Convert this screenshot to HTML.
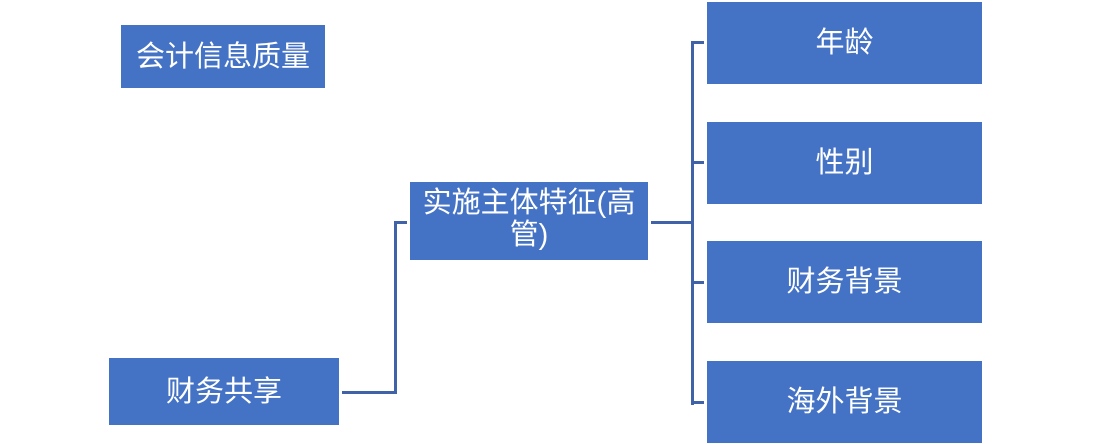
<!DOCTYPE html>
<html><head><meta charset="utf-8"><style>
body{margin:0;width:1103px;height:444px;background:#fff;position:relative;overflow:hidden;font-family:"Liberation Sans","Noto Sans CJK SC",sans-serif;}
.b{position:absolute;background:#4472C4;color:#fff;font-size:29px;display:flex;align-items:center;justify-content:center;text-align:center;line-height:32px;}
.l{position:absolute;background:#3F62A8;}
</style></head><body>
<div class="b" style="left:121px;top:25px;width:204px;height:63px">会计信息质量</div>
<div class="b" style="left:109px;top:358px;width:230px;height:67px">财务共享</div>
<div class="b" style="left:410px;top:182px;width:238px;height:78px;align-items:flex-start;padding-top:5px;box-sizing:border-box">实施主体特征(高<br>管)</div>
<div class="b" style="left:707px;top:2px;width:275px;height:82px">年龄</div>
<div class="b" style="left:707px;top:122px;width:275px;height:82px">性别</div>
<div class="b" style="left:707px;top:241px;width:275px;height:82px">财务背景</div>
<div class="b" style="left:707px;top:361px;width:275px;height:82px">海外背景</div>
<div class="l" style="left:342px;top:391px;width:55px;height:3px"></div>
<div class="l" style="left:394px;top:221px;width:3px;height:173px"></div>
<div class="l" style="left:394px;top:221px;width:13px;height:3px"></div>
<div class="l" style="left:651px;top:221px;width:42px;height:3px"></div>
<div class="l" style="left:691px;top:41px;width:3px;height:364px"></div>
<div class="l" style="left:691px;top:41px;width:13px;height:3px"></div>
<div class="l" style="left:691px;top:161px;width:13px;height:3px"></div>
<div class="l" style="left:691px;top:281px;width:13px;height:3px"></div>
<div class="l" style="left:691px;top:401px;width:13px;height:3px"></div>
</body></html>
